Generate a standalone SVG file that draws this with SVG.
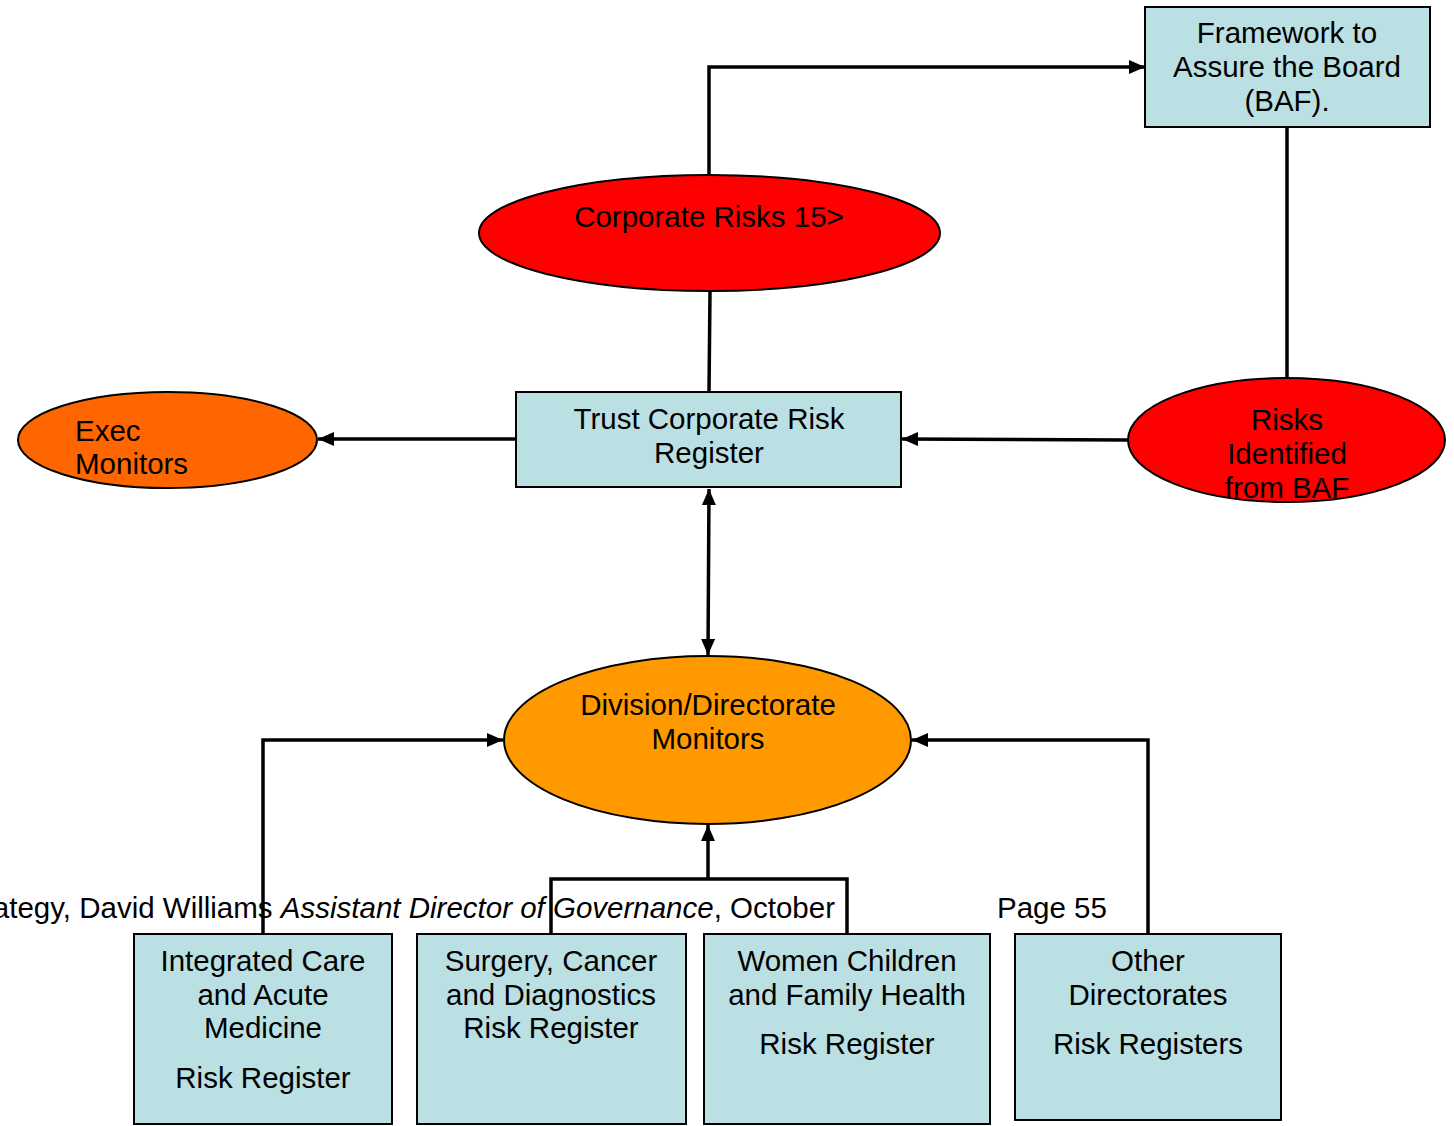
<svg xmlns="http://www.w3.org/2000/svg" width="1454" height="1126" viewBox="0 0 1454 1126">
  <style>
    .box { fill: #bbe0e3; stroke: #000; stroke-width: 2; }
    .ell { stroke: #000; stroke-width: 2; }
    .lbl { font-family: "Liberation Sans", Arial, sans-serif; font-size: 29.5px; fill: #000; }
    .c { text-anchor: middle; }
    .wire { fill: none; stroke: #000; stroke-width: 3.5; }
  </style>
  <defs>
    <marker id="arrow" viewBox="0 0 16 14" refX="16" refY="7" markerWidth="16" markerHeight="14" markerUnits="userSpaceOnUse" orient="auto-start-reverse">
      <path d="M0,0 L16,7 L0,14 Z" fill="#000"/>
    </marker>
  </defs>

  <rect width="1454" height="1126" fill="#fff"/>

  <!-- page footer text -->
  <text class="lbl" x="835" y="918" text-anchor="end">ategy, David Williams <tspan font-style="italic">Assistant Director of Governance</tspan>, October</text>
  <text class="lbl" x="997" y="918">Page 55</text>

  <!-- connectors -->
  <g id="connectors">
    <polyline class="wire" points="709,175 709,67 1145,67" marker-end="url(#arrow)"/>
    <line class="wire" x1="1287" y1="127" x2="1287" y2="378"/>
    <line class="wire" x1="710" y1="291" x2="709" y2="392"/>
    <line class="wire" x1="516" y1="439" x2="318" y2="439" marker-end="url(#arrow)"/>
    <line class="wire" x1="1128" y1="440" x2="902" y2="439" marker-end="url(#arrow)"/>
    <line class="wire" x1="709" y1="489" x2="708" y2="655" marker-start="url(#arrow)" marker-end="url(#arrow)"/>
    <polyline class="wire" points="263,934 263,740 503,740" marker-end="url(#arrow)"/>
    <polyline class="wire" points="551,934 551,879 847,879 847,934"/>
    <line class="wire" x1="708" y1="879" x2="708" y2="825" marker-end="url(#arrow)"/>
    <polyline class="wire" points="1148,934 1148,740 912,740" marker-end="url(#arrow)"/>
  </g>

  <g id="baf">
    <rect class="box" x="1145" y="7" width="285" height="120"/>
    <text class="lbl c" x="1287" y="43">Framework to</text>
    <text class="lbl c" x="1287" y="77">Assure the Board</text>
    <text class="lbl c" x="1287" y="111">(BAF).</text>
  </g>

  <g id="corporate-risks">
    <ellipse class="ell" cx="709.5" cy="233" rx="230.5" ry="58" fill="#ff0000"/>
    <text class="lbl c" x="709" y="227">Corporate Risks 15&gt;</text>
  </g>

  <g id="exec-monitors">
    <ellipse class="ell" cx="167.5" cy="440" rx="149.5" ry="48" fill="#ff6600"/>
    <text class="lbl" x="75" y="441">Exec</text>
    <text class="lbl" x="75" y="474">Monitors</text>
  </g>

  <g id="trust-register">
    <rect class="box" x="516" y="392" width="385" height="95"/>
    <text class="lbl c" x="709" y="429">Trust Corporate Risk</text>
    <text class="lbl c" x="709" y="463">Register</text>
  </g>

  <g id="baf-risks">
    <ellipse class="ell" cx="1286.5" cy="440" rx="158.5" ry="62" fill="#ff0000"/>
    <text class="lbl c" x="1287" y="430">Risks</text>
    <text class="lbl c" x="1287" y="464">Identified</text>
    <text class="lbl c" x="1287" y="498">from BAF</text>
  </g>

  <g id="division-monitors">
    <ellipse class="ell" cx="707.5" cy="740" rx="203.5" ry="84" fill="#ff9900"/>
    <text class="lbl c" x="708" y="715">Division/Directorate</text>
    <text class="lbl c" x="708" y="749">Monitors</text>
  </g>

  <g id="icam-register">
    <rect class="box" x="134" y="934" width="258" height="190"/>
    <text class="lbl c" x="263" y="971">Integrated Care</text>
    <text class="lbl c" x="263" y="1005">and Acute</text>
    <text class="lbl c" x="263" y="1038">Medicine</text>
    <text class="lbl c" x="263" y="1088">Risk Register</text>
  </g>

  <g id="scd-register">
    <rect class="box" x="417" y="934" width="269" height="190"/>
    <text class="lbl c" x="551" y="971">Surgery, Cancer</text>
    <text class="lbl c" x="551" y="1005">and Diagnostics</text>
    <text class="lbl c" x="551" y="1038">Risk Register</text>
  </g>

  <g id="wcfh-register">
    <rect class="box" x="704" y="934" width="286" height="190"/>
    <text class="lbl c" x="847" y="971">Women Children</text>
    <text class="lbl c" x="847" y="1005">and Family Health</text>
    <text class="lbl c" x="847" y="1054">Risk Register</text>
  </g>

  <g id="other-registers">
    <rect class="box" x="1015" y="934" width="266" height="186"/>
    <text class="lbl c" x="1148" y="971">Other</text>
    <text class="lbl c" x="1148" y="1005">Directorates</text>
    <text class="lbl c" x="1148" y="1054">Risk Registers</text>
  </g>
</svg>
